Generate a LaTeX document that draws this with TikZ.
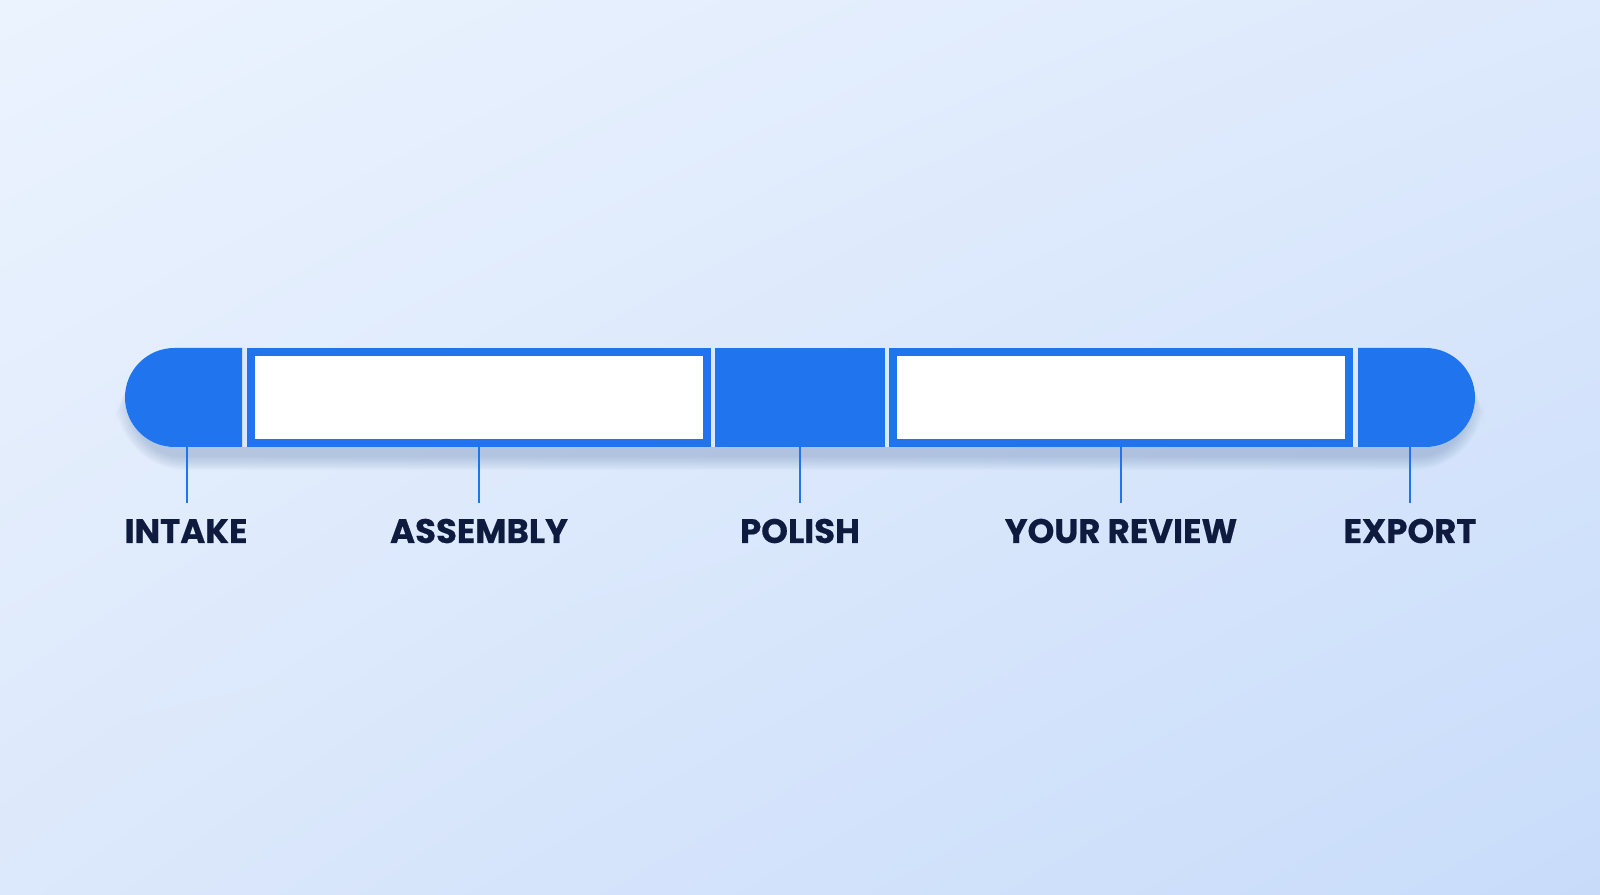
\documentclass[tikz,border=0pt]{standalone}
\usepackage{fontspec}
\setmainfont{Poppins}
\newfontfamily\lblfont{Poppins}[BoldFeatures={FakeBold=0.45}]
\usetikzlibrary{shapes.misc,shadings}
\definecolor{bgA}{HTML}{EBF3FE}
\definecolor{bgB}{HTML}{DDE9FC}
\definecolor{bgC}{HTML}{DCE8FB}
\definecolor{bgD}{HTML}{C8DCFA}
\definecolor{barblue}{HTML}{2075EF}
\definecolor{gapc}{HTML}{DCE8FB}
\definecolor{navy}{HTML}{0E1A3E}
\definecolor{shadowc}{HTML}{2A4A8A}
\tikzset{
  seg/.style={inner sep=0pt, outer sep=0pt, minimum height=99pt, fill=barblue},
  capseg/.style={seg, rounded rectangle, minimum width=117pt},
  hollow/.style={inner sep=0pt, outer sep=0pt, fill=white, draw=barblue, line width=8pt, minimum width=456pt, minimum height=91pt},
  lbl/.style={anchor=base, inner sep=0pt, text=navy, font=\fontsize{34}{38}\lblfont\bfseries},
  conn/.style={draw=barblue, line width=2.8pt},
  shadowlayer/.style={fill=shadowc, fill opacity=0.018, rounded corners=#1},
}
\begin{document}
\begin{tikzpicture}[x=1pt,y=1pt]
\shade[upper left=bgA, upper right=bgB, lower left=bgC, lower right=bgD] (0,0) rectangle (1600,894);
\useasboundingbox (0,0) rectangle (1600,894);
% soft shadow under the bar
\foreach \i in {0,2,...,22}{
  \fill[shadowlayer=49.5pt+\i pt] (125-\i*0.8+8,447-10-\i*0.6) rectangle (1475+\i*0.8-8,546-\i*0.4);
}
% underlying bar (gaps)
\node[rounded rectangle, inner sep=0pt, outer sep=0pt, minimum width=1350pt, minimum height=99pt, fill=gapc] (bar) at (800,496.5) {};
% segments
\node[capseg, rounded rectangle right arc=none] (intake) at (183.5,496.5) {};
\node[hollow] (assembly) at (479,496.5) {};
\node[seg, minimum width=170pt] (polish) at (800,496.5) {};
\node[hollow] (review) at (1121,496.5) {};
\node[capseg, rounded rectangle left arc=none] (export) at (1416.5,496.5) {};
% labels
\node[lbl] (lintake) at (186,351) {INTAKE};
\node[lbl] (lassembly) at (479,351) {ASSEMBLY};
\node[lbl] (lpolish) at (800,351) {POLISH};
\node[lbl] (lreview) at (1121,351) {YOUR REVIEW};
\node[lbl] (lexport) at (1410,351) {EXPORT};
% connector ends
\coordinate (cintake) at (187,391);
\coordinate (cassembly) at (479,391);
\coordinate (cpolish) at (800,391);
\coordinate (creview) at (1121,391);
\coordinate (cexport) at (1410,391);
\draw[conn] (intake.south -| cintake) -- (cintake);
\draw[conn] ([yshift=-4pt]assembly.south -| cassembly) -- (cassembly);
\draw[conn] (polish.south -| cpolish) -- (cpolish);
\draw[conn] ([yshift=-4pt]review.south -| creview) -- (creview);
\draw[conn] (export.south -| cexport) -- (cexport);
\end{tikzpicture}
\end{document}
